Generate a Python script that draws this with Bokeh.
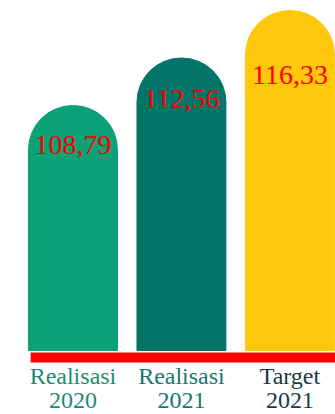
from bokeh.plotting import figure
from bokeh.models import ColumnDataSource, Range1d, BoxAnnotation
from bokeh.core.properties import value
from bokeh.embed import file_html
from bokeh.resources import INLINE

# data
categories = ["Realisasi 2020", "Realisasi 2021", "Target 2021"]
line1 = ["Realisasi", "Realisasi", "Target"]
line2 = ["2020", "2021", "2021"]
values = [108.79, 112.56, 116.33]
value_labels = ["108,79", "112,56", "116,33"]

# styles
bar_colors = ["#0aa276", "#027568", "#ffc80c"]
label_colors = ["#1e8b70", "#1b7768", "#173b3f"]
y_base = 89.35
label_offsets = [39, 41, 64]

W, H = 335, 414
x_start, x_end = -0.668, 2.42
y_start, y_end = 84.27, 117.13
ppu = H / (y_end - y_start)

p = figure(width=W, height=H, output_backend="svg", toolbar_location=None,
           x_axis_type=None, y_axis_type=None,
           x_range=Range1d(x_start, x_end), y_range=Range1d(y_start, y_end),
           min_border=0, outline_line_color=None, background_fill_color="white")
p.grid.visible = False

xs = list(range(len(categories)))
src = ColumnDataSource(dict(x=xs, top=values, color=bar_colors, lab=value_labels,
                            l1=line1, l2=line2, lc=label_colors, off=label_offsets))

p.vbar(x="x", top="top", bottom=y_base, width=0.82, color="color", source=src,
       border_radius=(44, 44, 0, 0))

# red base strip
p.add_layout(BoxAnnotation(left=-0.39, top=y_base - 2 / ppu, bottom=y_base - 12 / ppu,
                           fill_color="#ff0000", fill_alpha=1, line_color=None))

p.text(x="x", y="top", text="lab", source=src, y_offset="off",
       text_align="center", text_baseline="middle", text_color="#ff0000",
       text_font=value("Liberation Serif"), text_font_size="28px")

p.text(x="x", y=y_base - 26 / ppu, text="l1", source=src, text_align="center",
       text_baseline="alphabetic", text_color="lc",
       text_font=value("Liberation Serif"), text_font_size="24px")
p.text(x="x", y=y_base - 50 / ppu, text="l2", source=src, text_align="center",
       text_baseline="alphabetic", text_color="lc",
       text_font=value("Liberation Serif"), text_font_size="24px")

open("out.html", "w").write(file_html(p, INLINE))
